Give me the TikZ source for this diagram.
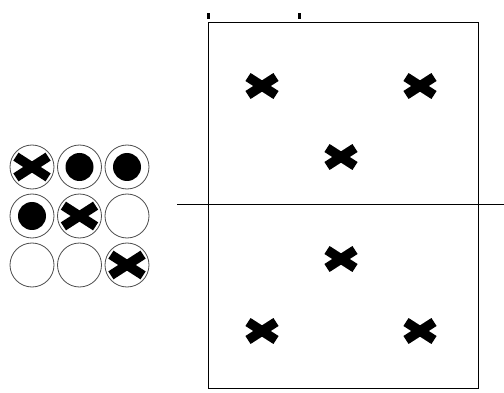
\documentclass[tikz,border=0pt]{standalone}
\usetikzlibrary{math}

\tikzset{
  xmark/.pic={
    \draw[line width=9.5] (-14,-9) -- (14,9);
    \draw[line width=9.5] (-14,9) -- (14,-9);
  },
  cell/.style={draw=black!70, line width=0.8},
}

\begin{document}
\begin{tikzpicture}[x=1pt,y=-1pt]
\tikzmath{
\Rc=22;
\Rd=14;
}
\useasboundingbox (0,0) rectangle (504,393);

% small board
\foreach \i/\j in {0/0,1/0,2/0,0/1,1/1,2/1,0/2,1/2,2/2}{
  \draw[cell] (32+47.5*\i,167+49*\j) circle (\Rc);
}
\foreach \i/\j in {1/0,2/0,0/1}{
  \fill (32+47.5*\i,167+49*\j) circle (\Rd);
}
\foreach \i/\j in {0/0,1/1,2/2}{
  \begin{scope}
    \clip (32+47.5*\i,167+49*\j) circle (\Rc);
    \pic[scale=1.15] at (32+47.5*\i,167+49*\j) {xmark};
  \end{scope}
}

% big board
\draw[line width=1] (208,23) rectangle (478,388);
\draw[line width=1] (177,205) -- (504,205);
\fill (207,13) rectangle (210,19);
\fill (298,13) rectangle (301,19);

\foreach \p in {(262,86),(420,86),(341,157),(341,259),(262,331),(420,331)}{
  \pic at \p {xmark};
}
\end{tikzpicture}
\end{document}
